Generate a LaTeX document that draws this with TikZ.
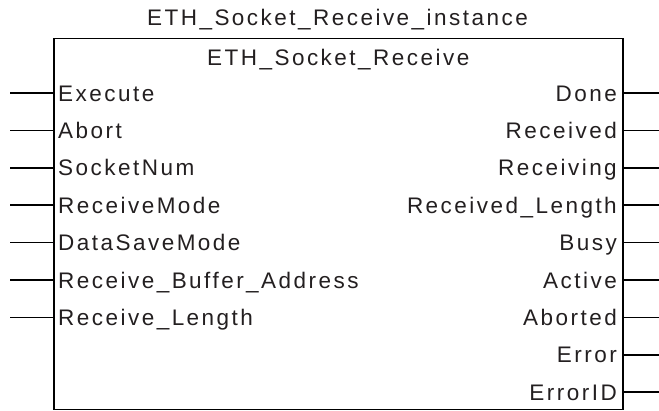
\documentclass[tikz,border=0pt]{standalone}
\usepackage{fontspec}
\setmainfont{Liberation Sans}[LetterSpace=11]
\usetikzlibrary{positioning}
\definecolor{pintext}{RGB}{35,31,32}

\begin{document}
\begin{tikzpicture}[x=1pt, y=-1pt,
    every node/.style={font=\fontsize{22.5}{26}\selectfont, text=pintext, inner sep=0pt,
        text height=17pt, text depth=1pt},
    fbox/.style={draw, line width=1.5pt, minimum width=569pt, minimum height=371pt},
    pinline/.style={line width=1.5pt}]
    \useasboundingbox (0,0) rectangle (659,410);
    \node[fbox, anchor=north west] (fb) at (53,37.5) {};
    \node (inst) at (337.5,17) {ETH\_Socket\_Receive\_instance};
    \node[below=10.5pt of fb.north] (fbname) {ETH\_Socket\_Receive};
    % inputs
    \foreach \pname [count=\i] in {Execute, Abort, SocketNum, ReceiveMode, DataSaveMode,
        Receive\_Buffer\_Address, Receive\_Length} {
        \node[anchor=west, inner xsep=5pt] (in\i) at (53,{93+37.4*(\i-1)}) {\pname};
        \coordinate (inx\i) at (10,{93+37.4*(\i-1)});
        \draw[pinline] (inx\i) -- (in\i.west);
    }
    % outputs
    \foreach \pname [count=\i] in {Done, Received, Receiving, Received\_Length, Busy,
        Active, Aborted, Error, ErrorID} {
        \node[anchor=east, inner xsep=5pt] (out\i) at (622,{93+37.4*(\i-1)}) {\pname};
        \coordinate (outx\i) at (659,{93+37.4*(\i-1)});
        \draw[pinline] (out\i.east) -- (outx\i);
    }
\end{tikzpicture}
\end{document}
